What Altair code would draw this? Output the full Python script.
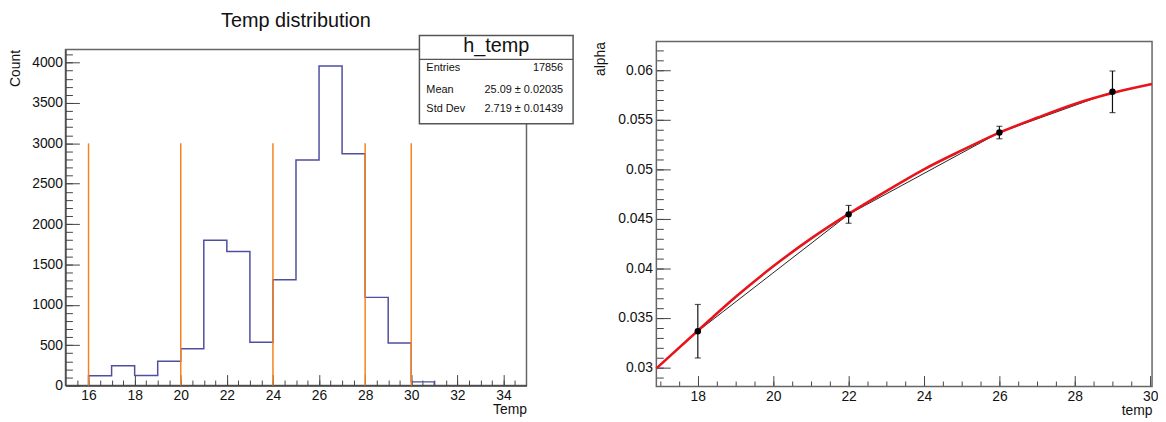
import altair as alt
import pandas as pd

FONT = "Liberation Sans"
AX = "#444444"
TXT = "#111111"
FRAME = "#666666"

# ---------------- left panel: histogram ----------------
hist_title = "Temp distribution"
bin_lo = [16, 17, 18, 19, 20, 21, 22, 23, 24, 25, 26, 27, 28, 29, 30]
bin_last_hi = 31
counts = [120, 245, 123, 300, 455, 1800, 1660, 537, 1310, 2795, 3960, 2870, 1092, 528, 45]
cut_x = [16, 20, 24, 28, 30]
cut_top = 3000
stats_title = "h_temp"
stats_names = ["Entries", "Mean", "Std Dev"]
stats_vals = ["17856", "25.09 \u00b1 0.02035", "2.719 \u00b1 0.01439"]
x1_major = [16, 18, 20, 22, 24, 26, 28, 30, 32, 34]
y1_major = [0, 500, 1000, 1500, 2000, 2500, 3000, 3500, 4000]
x1_title = "Temp"
y1_title = "Count"

# ---------------- right panel: alpha vs temp ----------------
temps = [18, 22, 26, 29]
alpha = [0.03365, 0.04545, 0.05371, 0.05782]
alpha_err = [0.0027, 0.0009, 0.00063, 0.0021]
fit_t = [16.9, 18, 19, 20, 21, 22, 23, 24, 25, 26, 27, 28, 29, 30.05]
fit_a = [0.0299, 0.0337, 0.0371, 0.0402, 0.0430, 0.0455, 0.0478, 0.0500,
         0.0519, 0.0537, 0.0552, 0.0566, 0.0577, 0.0586]
x2_major = [18, 20, 22, 24, 26, 28, 30]
y2_major = [0.03, 0.035, 0.04, 0.045, 0.05, 0.055, 0.06]
x2_title = "temp"
y2_title = "alpha"

# minor tick positions (axis decoration)
x1_minor = [15.5 + 0.5 * i for i in range(39)]
y1_minor = [100 * i for i in range(1, 42)]
x2_minor = [17 + 0.5 * i for i in range(27)]
y2_minor = [round(0.029 + 0.001 * i, 4) for i in range(34)]

# ---------------- tables ----------------
hx = [bin_lo[0]] + bin_lo + [bin_last_hi]
hy = [0] + counts + [0]
hist_df = pd.DataFrame({"x": hx, "y": hy})
cut_df = pd.DataFrame({"x": cut_x, "y0": [0] * len(cut_x), "y1": [cut_top] * len(cut_x)})
pts_df = pd.DataFrame({"t": temps, "a": alpha,
                       "lo": [a - e for a, e in zip(alpha, alpha_err)],
                       "hi": [a + e for a, e in zip(alpha, alpha_err)]})
fit_df = pd.DataFrame({"t": fit_t, "a": fit_a})
one = pd.DataFrame({"k": [0]})

LFS = 14


def main_axis(orient, values, fmt, title, tx, ty, pad, domain=True):
    d = dict(orient=orient, values=values, format=fmt, ticks=False, tickSize=0, grid=False,
             domain=domain, domainColor=AX, domainWidth=1.3, labelFont=FONT, labelFontSize=LFS,
             labelColor=TXT, labelFlush=False, labelPadding=pad, labelOverlap=False,
             title=title, titleFont=FONT, titleFontSize=14, titleFontWeight="normal",
             titleColor=TXT, titleX=tx, titleY=ty, titleAlign="right", titleBaseline="middle",
             titleAngle=270 if orient == "left" else 0)
    return alt.Axis(**d)


def tick_axis(orient, values, size):
    return alt.Axis(orient=orient, values=values, labels=False, domain=False, grid=False,
                    ticks=True, tickSize=size, offset=-size, tickColor=AX, tickWidth=1,
                    title=None)


def ghost(df, xf, yf, xs, ys, xa, ya):
    return alt.Chart(df).mark_point(opacity=0).encode(
        x=alt.X(xf, scale=xs, axis=xa), y=alt.Y(yf, scale=ys, axis=ya))


def anchor(dy):
    return alt.Chart(one).mark_text(opacity=0, fontSize=4, align="left", baseline="top").encode(
        x=alt.value(0), y=alt.value(dy), text=alt.value("."))


# ---------------- left chart ----------------
W1, H1 = 465, 339
lx = alt.Scale(domain=[15, 35], nice=False, zero=False)
ly = alt.Scale(domain=[0, 4164], nice=False, zero=False)

hist = alt.Chart(hist_df).mark_line(interpolate="step-after", color="#4f4f9f", strokeWidth=1.5).encode(
    x=alt.X("x:Q", scale=lx, axis=main_axis("bottom", x1_major, "d", x1_title, W1, 24, 3)),
    y=alt.Y("y:Q", scale=ly, axis=main_axis("left", y1_major, "d", y1_title, -50, 0, 3)),
)
cuts = alt.Chart(cut_df).mark_rule(color="#f5821f", strokeWidth=1.5).encode(
    x=alt.X("x:Q", scale=lx, axis=None),
    y=alt.Y("y0:Q", scale=ly, axis=None),
    y2="y1:Q",
)
l_major = ghost(hist_df, "x:Q", "y:Q", lx, ly, tick_axis("bottom", x1_major, 11), tick_axis("left", y1_major, 14))
l_minor = ghost(hist_df, "x:Q", "y:Q", lx, ly, tick_axis("bottom", x1_minor, 5.5), tick_axis("left", y1_minor, 7))

title_txt = alt.Chart(one).mark_text(font=FONT, fontSize=20, align="center", baseline="middle", color=TXT).encode(
    x=alt.value(W1 / 2), y=alt.value(-29), text=alt.value(hist_title))

BX0, BX1, BY0, BY1 = 357, 512, -14, 75
box = alt.Chart(one).mark_rect(fill="white", stroke="#555555", strokeWidth=1.5).encode(
    x=alt.value(BX0), x2=alt.value(BX1), y=alt.value(BY0), y2=alt.value(BY1))
sep = alt.Chart(one).mark_rule(color="#555555", strokeWidth=1.3).encode(
    x=alt.value(BX0), x2=alt.value(BX1), y=alt.value(10))
box_head = alt.Chart(one).mark_text(font=FONT, fontSize=20, align="center", baseline="middle", color=TXT).encode(
    x=alt.value((BX0 + BX1) / 2), y=alt.value(-3), text=alt.value(stats_title))
row_y = [19, 40.5, 60]
rows = []
for name, val, yy in zip(stats_names, stats_vals, row_y):
    rows.append(alt.Chart(one).mark_text(font=FONT, fontSize=11, align="left", baseline="middle", color=TXT).encode(
        x=alt.value(BX0 + 7), y=alt.value(yy), text=alt.value(name)))
    rows.append(alt.Chart(one).mark_text(font=FONT, fontSize=11, align="right", baseline="middle", color=TXT).encode(
        x=alt.value(BX1 - 10), y=alt.value(yy), text=alt.value(val)))

left = alt.layer(hist, cuts, l_major, l_minor, anchor(-39), title_txt, box, sep, box_head, *rows).resolve_axis(
    x="independent", y="independent").properties(width=W1, height=H1)

# ---------------- right chart ----------------
# plot origin row-aligned with left panel; the frame extends FR_UP px above it
W2, H2 = 500, 340
FR_UP = 8
rx = alt.Scale(domain=[16.9, 30.05], nice=False, zero=False)
ry = alt.Scale(domain=[0.02807, 0.0621], nice=False, zero=False)

frame = alt.Chart(one).mark_rect(fillOpacity=0, stroke=FRAME, strokeWidth=1.5).encode(
    x=alt.value(0), x2=alt.value(W2), y=alt.value(-FR_UP), y2=alt.value(H2))
poly = alt.Chart(pts_df).mark_line(color="#222222", strokeWidth=1).encode(
    x=alt.X("t:Q", scale=rx, axis=main_axis("bottom", x2_major, "d", x2_title, W2, 24, 3, False)),
    y=alt.Y("a:Q", scale=ry, axis=main_axis("left", y2_major, "~g", y2_title, -56, -FR_UP, 4, False)),
)
fit = alt.Chart(fit_df).mark_line(color="#e8141c", strokeWidth=2.6, interpolate="monotone").encode(
    x=alt.X("t:Q", scale=rx, axis=None), y=alt.Y("a:Q", scale=ry, axis=None))
err = alt.Chart(pts_df).mark_rule(color="#111111", strokeWidth=1.2).encode(
    x=alt.X("t:Q", scale=rx, axis=None), y=alt.Y("lo:Q", scale=ry, axis=None), y2="hi:Q")
cap_lo = alt.Chart(pts_df).mark_tick(color="#111111", orient="horizontal", size=6, thickness=1.2).encode(
    x=alt.X("t:Q", scale=rx, axis=None), y=alt.Y("lo:Q", scale=ry, axis=None))
cap_hi = alt.Chart(pts_df).mark_tick(color="#111111", orient="horizontal", size=6, thickness=1.2).encode(
    x=alt.X("t:Q", scale=rx, axis=None), y=alt.Y("hi:Q", scale=ry, axis=None))
dots = alt.Chart(pts_df).mark_circle(color="#000000", size=42, opacity=1).encode(
    x=alt.X("t:Q", scale=rx, axis=None), y=alt.Y("a:Q", scale=ry, axis=None))
r_major = ghost(pts_df, "t:Q", "a:Q", rx, ry, tick_axis("bottom", x2_major, 11), tick_axis("left", y2_major, 14))
r_minor = ghost(pts_df, "t:Q", "a:Q", rx, ry, tick_axis("bottom", x2_minor, 5.5), tick_axis("left", y2_minor, 7))

right = alt.layer(frame, poly, fit, err, cap_lo, cap_hi, dots, r_major, r_minor).resolve_axis(
    x="independent", y="independent").properties(width=W2, height=H2,
                                                 view=alt.ViewBackground(stroke=None))

chart = alt.hconcat(left, right, spacing=19, bounds="full").configure_view(
    stroke=FRAME, strokeWidth=1.5, fill="white").properties(
    padding={"left": 0, "top": 0, "right": 0, "bottom": 0}, background="white")

chart.save("out.html", embed_options={"renderer": "svg", "actions": False})
